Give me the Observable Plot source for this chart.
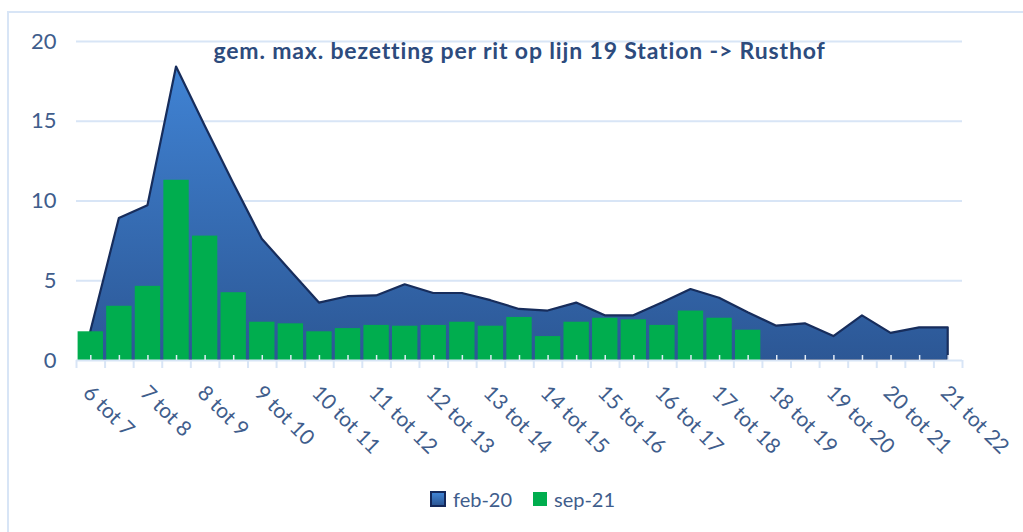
<!DOCTYPE html>
<html>
<head>
<meta charset="utf-8">
<script src="https://cdn.jsdelivr.net/npm/d3@7"></script>
<script src="https://cdn.jsdelivr.net/npm/@observablehq/plot@0.6"></script>
<style>
  html, body { margin: 0; padding: 0; background: #fff; }
  #wrap { position: relative; width: 1023px; height: 532px; overflow: hidden; font-family: Lato, "Open Sans", sans-serif; }
  #frame { position: absolute; left: 7px; top: 11px; right: -4px; bottom: -4px; border-top: 2px solid #d8e5f6; border-left: 2px solid #d8e5f6; pointer-events: none; }
  #chart { position: absolute; left: 0; top: 0; }
  #legend { position: absolute; top: 486px; left: 0; width: 1023px; height: 26px; }
  .item { position: absolute; top: 0; display: flex; align-items: center; font-size: 20px; color: #3f5d8c; height: 26px; }
  .sw { display: inline-block; margin-right: 7px; box-sizing: border-box; }
</style>
</head>
<body>
<div id="wrap">
  <div id="chart"></div>
  <div id="frame"></div>
  <div id="legend"></div>
</div>
<script>
// ---- data ----
const slots = ["6.00","6.30","7.00","7.30","8.00","8.30","9.00","9.30","10.00","10.30",
  "11.00","11.30","12.00","12.30","13.00","13.30","14.00","14.30","15.00","15.30",
  "16.00","16.30","17.00","17.30","18.00","18.30","19.00","19.30","20.00","20.30","21.00"];
const tickLabels = ["6 tot 7","7 tot 8","8 tot 9","9 tot 10","10 tot 11","11 tot 12","12 tot 13",
  "13 tot 14","14 tot 15","15 tot 16","16 tot 17","17 tot 18","18 tot 19","19 tot 20","20 tot 21","21 tot 22"];
const feb20 = [1.8, 8.9, 9.7, 18.4, 14.7, 11.1, 7.6, 5.6, 3.6, 4.0, 4.05, 4.75, 4.2, 4.2, 3.75, 3.2,
  3.1, 3.6, 2.8, 2.8, 3.6, 4.45, 3.9, 3.0, 2.15, 2.3, 1.5, 2.8, 1.7, 2.05, 2.05];
const sep21 = [1.8, 3.4, 4.65, 11.3, 7.8, 4.25, 2.4, 2.3, 1.8, 2.0, 2.2, 2.15, 2.2, 2.4, 2.15, 2.7,
  1.5, 2.4, 2.65, 2.55, 2.2, 3.1, 2.65, 1.9];
const yTicks = [0, 5, 10, 15, 20];
const seriesNames = ["feb-20", "sep-21"];
const title = "gem. max. bezetting per rit op lijn 19 Station -> Rusthof";

// ---- derived tables ----
const febData = feb20.map((v, i) => ({i, slot: slots[i], v}));
const sepData = sep21.map((v, i) => ({i, slot: slots[i], v, x1: i - 0.5, x2: i + 0.5}));
const centers = slots.map((s, i) => i);
const bounds = [...centers.map(i => i - 0.5), slots.length - 0.5];
const labelIdx = centers.filter(i => i % 2 === 0);

const grid = "#d8e5f6";
const txt = "#3f5d8c";

const defs = () => {
  const d = d3.create("svg:defs");
  const g = d.append("linearGradient").attr("id", "febGrad").attr("x1", 0).attr("y1", 0).attr("x2", 0).attr("y2", 1);
  g.append("stop").attr("offset", "0%").attr("stop-color", "#4083d4");
  g.append("stop").attr("offset", "100%").attr("stop-color", "#2c5795");
  return d.node();
};

const chart = Plot.plot({
  width: 1023,
  height: 532,
  marginLeft: 76,
  marginRight: 61,
  marginTop: 41,
  marginBottom: 172,
  style: {fontFamily: "Lato, sans-serif", background: "transparent", overflow: "visible"},
  x: {domain: [-0.5, slots.length - 0.5], axis: null},
  y: {domain: [0, 20], axis: null},
  marks: [
    defs,
    Plot.gridY(yTicks.slice(1), {stroke: grid, strokeOpacity: 1, strokeWidth: 2}),
    Plot.axisY(yTicks, {tickSize: 0, tickPadding: 20, fontSize: 22, fill: txt, tickFormat: d => d, label: null}),
    Plot.areaY(febData, {x: "i", y: "v", fill: "url(#febGrad)", stroke: "#172d5c", strokeWidth: 2.2, strokeLinejoin: "round", curve: "linear"}),
    Plot.rectY(sepData, {x1: "x1", x2: "x2", y: "v", fill: "#00ad4e", insetLeft: 1.6, insetRight: 1.6}),
    Plot.ruleY([0], {stroke: grid, strokeWidth: 2}),
    Plot.axisX(centers, {tickSize: -5, tickFormat: () => "", stroke: "#e3ecf7", strokeWidth: 1.5, label: null}),
    Plot.axisX(bounds, {tickSize: 8, tickFormat: () => "", stroke: grid, strokeWidth: 2, label: null}),
    Plot.text(labelIdx, {x: d => d, text: d => tickLabels[d / 2], frameAnchor: "bottom", dy: 29, dx: -4,
      rotate: 45, textAnchor: "start", lineAnchor: "middle", fontSize: 21, fill: txt}),
    Plot.text([title], {frameAnchor: "top", dy: 10, fontSize: 23, fontWeight: "bold", fill: "#2d4b7d",
      lineAnchor: "middle", style: "letter-spacing:0.85px"})
  ]
});
document.getElementById("chart").appendChild(chart);
// letter spacing for title
d3.select(chart).selectAll("text").filter(function() { return this.textContent === title; })
  .style("letter-spacing", "0.85px");

// ---- legend ----
const legend = document.getElementById("legend");
const swStyles = [
  "width:16px;height:16px;border:2px solid #14285a;background:linear-gradient(#4083d4,#2c5795);",
  "width:14px;height:14px;background:#00ad4e;"
];
const lefts = [430, 533];
seriesNames.forEach((name, k) => {
  const it = document.createElement("div");
  it.className = "item";
  it.style.left = lefts[k] + "px";
  const sw = document.createElement("span");
  sw.className = "sw";
  sw.style.cssText += swStyles[k];
  it.appendChild(sw);
  it.appendChild(document.createTextNode(name));
  legend.appendChild(it);
});
</script>
</body>
</html>
